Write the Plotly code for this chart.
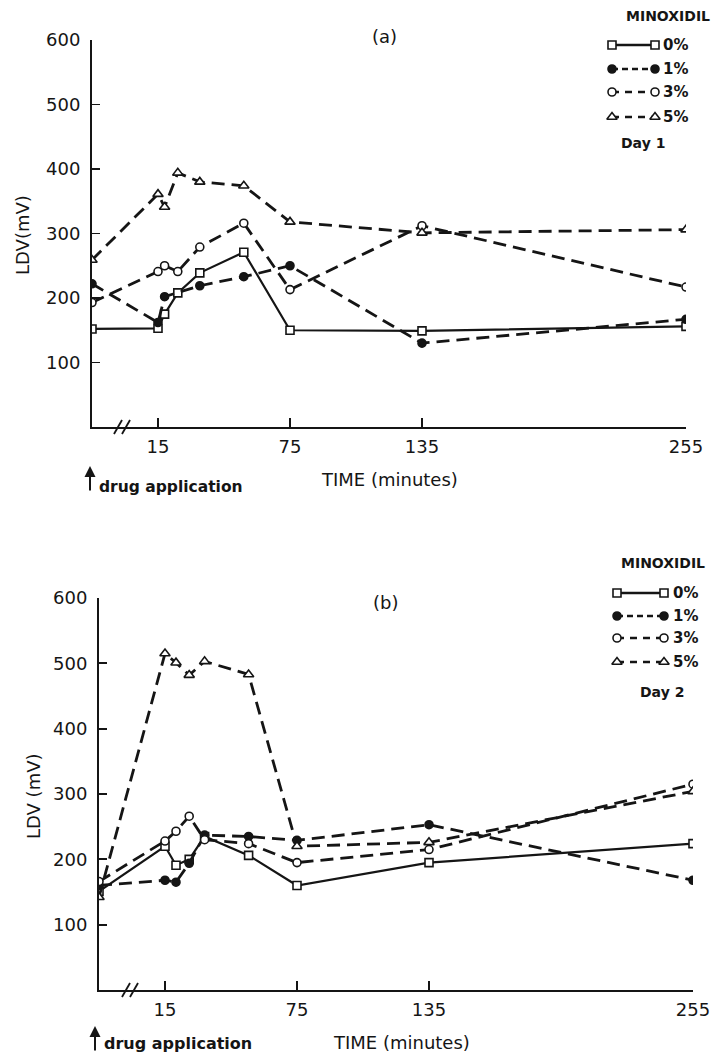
import plotly.graph_objects as go

W, H = 716, 1053

# ---------------- data ----------------
series_labels = ["0%", "1%", "3%", "5%"]

# Panel (a) – Day 1 (time in minutes after drug application, LDV in mV)
a_t_0 = [0, 15, 18, 24, 34, 54, 75, 135, 255]
a_v_0 = [152, 153, 175, 208, 239, 271, 150, 149, 156]
a_t_1 = [0, 15, 18, 34, 54, 75, 135, 255]
a_v_1 = [222, 162, 202, 219, 233, 250, 130, 167]
a_t_3 = [0, 15, 18, 24, 34, 54, 75, 135, 255]
a_v_3 = [193, 241, 250, 241, 279, 316, 213, 312, 217]
a_t_5 = [0, 15, 18, 24, 34, 54, 75, 135, 255]
a_v_5 = [259, 361, 341, 394, 380, 374, 318, 301, 306]

# Panel (b) – Day 2
b_t_0 = [0, 15, 20, 26, 33, 53, 75, 135, 255]
b_v_0 = [151, 220, 191, 200, 235, 206, 160, 195, 224]
b_t_1 = [0, 15, 20, 26, 33, 53, 75, 135, 255]
b_v_1 = [160, 168, 165, 194, 237, 235, 229, 253, 168]
b_t_3 = [0, 15, 20, 26, 33, 53, 75, 135, 255]
b_v_3 = [166, 228, 243, 266, 230, 224, 195, 215, 315]
b_t_5 = [0, 15, 20, 26, 33, 53, 75, 135, 255]
b_v_5 = [142, 515, 501, 482, 503, 483, 220, 226, 304]

x_tick_vals = [15, 75, 135, 255]
x_tick_text = ["15", "75", "135", "255"]
y_tick_vals = [100, 200, 300, 400, 500, 600]

BREAK_POS = -15  # where time 0 (drug application) sits on the broken axis


def pos(ts):
    return [BREAK_POS if t == 0 else t for t in ts]


FONT = "DejaVu Sans"
INK = "#151515"

styles = {
    "0%": dict(dash="solid", width=2.2, symbol="square", fill="white", size=8),
    "1%": dict(dash="13px,7px", width=2.8, symbol="circle", fill=INK, size=8),
    "3%": dict(dash="13px,7px", width=2.8, symbol="circle", fill="white", size=8),
    "5%": dict(dash="13px,7px", width=2.8, symbol="triangle-up", fill="white", size=9),
}

fig = go.Figure()

panels = [
    ("x", "y", [(a_t_0, a_v_0), (a_t_1, a_v_1), (a_t_3, a_v_3), (a_t_5, a_v_5)]),
    ("x2", "y2", [(b_t_0, b_v_0), (b_t_1, b_v_1), (b_t_3, b_v_3), (b_t_5, b_v_5)]),
]
for xa, ya, data in panels:
    for lab, (ts, vs) in zip(series_labels, data):
        st = styles[lab]
        fig.add_trace(go.Scatter(
            x=pos(ts), y=vs, xaxis=xa, yaxis=ya, mode="lines+markers",
            line=dict(color=INK, width=st["width"], dash=st["dash"]),
            marker=dict(symbol=st["symbol"], size=st["size"], color=st["fill"],
                        line=dict(color=INK, width=1.6)),
            showlegend=False, hoverinfo="skip"))

# ---------------- legend samples (pixel overlay axis) ----------------
legends = [
    dict(x0=612, x1=655, rows=[45, 69, 92, 117], tx=661),
    dict(x0=617, x1=664, rows=[593, 616, 638, 662], tx=671),
]
leg_dash = {"0%": "solid", "1%": "6px,4px", "3%": "7px,6px", "5%": "7px,6px"}
for lg in legends:
    for lab, ry in zip(series_labels, lg["rows"]):
        st = styles[lab]
        fig.add_trace(go.Scatter(
            x=[lg["x0"], lg["x1"]], y=[ry, ry], xaxis="x3", yaxis="y3",
            mode="lines+markers",
            line=dict(color=INK, width=2.4, dash=leg_dash[lab]),
            marker=dict(symbol=st["symbol"], size=st["size"], color=st["fill"],
                        line=dict(color=INK, width=1.6)),
            showlegend=False, hoverinfo="skip"))

# ---------------- axes ----------------
A = dict(x0=92, x1=686, ytop=40, ybot=427)
B = dict(x0=99, x1=693, ytop=598, ybot=990)


def xdom(p):
    return [p["x0"] / W, p["x1"] / W]


def ydom(p):
    return [(H - p["ybot"]) / H, (H - p["ytop"]) / H]


common_x = dict(range=[BREAK_POS, 255], tickvals=x_tick_vals, ticktext=x_tick_text,
                showline=True, linecolor=INK, linewidth=2, ticks="inside",
                ticklen=9, tickwidth=1.8, tickcolor=INK, showgrid=False,
                zeroline=False, tickfont=dict(family=FONT, size=18, color=INK),
                ticklabelstandoff=2, automargin=False)
common_y = dict(range=[0, 600], tickvals=y_tick_vals,
                showline=True, linecolor=INK, linewidth=2, ticks="inside",
                ticklen=8, tickwidth=1.8, tickcolor=INK, showgrid=False,
                zeroline=False, tickfont=dict(family=FONT, size=18, color=INK),
                ticklabelstandoff=6, automargin=False)

fig.update_layout(
    template="none",
    width=W, height=H,
    margin=dict(l=0, r=0, t=0, b=0, pad=0, autoexpand=False),
    paper_bgcolor="white", plot_bgcolor="rgba(0,0,0,0)",
    font=dict(family=FONT, color=INK),
    xaxis=dict(domain=xdom(A), anchor="y", **common_x),
    yaxis=dict(domain=ydom(A), anchor="x", **common_y),
    xaxis2=dict(domain=xdom(B), anchor="y2", **common_x),
    yaxis2=dict(domain=ydom(B), anchor="x2", **common_y),
    xaxis3=dict(domain=[0, 1], range=[0, W], visible=False, anchor="y3",
                fixedrange=True, automargin=False),
    yaxis3=dict(domain=[0, 1], range=[H, 0], visible=False, anchor="x3",
                fixedrange=True, automargin=False),
    showlegend=False,
)

ann = []


def txt(x, y, s, size, bold=False, xanchor="center", angle=0):
    ann.append(dict(x=x, y=y, xref="x3", yref="y3", text=f"<b>{s}</b>" if bold else s,
                    showarrow=False, xanchor=xanchor, yanchor="middle", textangle=angle,
                    font=dict(family=FONT, size=size, color=INK)))


# panel labels
txt(384, 36, "(a)", 18)
txt(385, 602, "(b)", 18)
# y titles
txt(22, 235, "LDV(mV)", 18, angle=-90)
txt(33, 796, "LDV (mV)", 18, angle=-90)
# x titles
txt(389, 479, "TIME (minutes)", 18)
txt(401, 1042, "TIME (minutes)", 18)
# drug application
txt(97, 487, "drug application", 15.5, bold=True, xanchor="left")
txt(102, 1043, "drug application", 16, bold=True, xanchor="left")
for ax_x, y0, y1 in [(90, 492, 466), (95, 1052, 1026)]:
    ann.append(dict(x=ax_x, y=y1, ax=ax_x, ay=y0, xref="x3", yref="y3",
                    axref="x3", ayref="y3", text="", showarrow=True,
                    arrowhead=2, arrowsize=1.1, arrowwidth=2, arrowcolor=INK))
# legend texts
for lg, title_y, title_x, day, day_y, day_x in [
        (legends[0], 16, 668, "Day 1", 143, 643),
        (legends[1], 563, 663, "Day 2", 692, 662)]:
    txt(title_x, title_y, "MINOXIDIL", 14, bold=True)
    for lab, ry in zip(series_labels, lg["rows"]):
        txt(lg["tx"], ry, lab, 15, bold=True, xanchor="left")
    txt(day_x, day_y, day, 14, bold=True)

fig.update_layout(annotations=ann)

# axis breaks "//"
shapes = []
for bx, by in [(122, 427), (130, 990)]:
    for dx in (-4, 4):
        shapes.append(dict(type="line", xref="x3", yref="y3",
                           x0=bx + dx - 4, y0=by + 7, x1=bx + dx + 4, y1=by - 7,
                           line=dict(color=INK, width=1.8)))
fig.update_layout(shapes=shapes)

fig.write_html(
    "out.html",
    config={"displayModeBar": False, "staticPlot": True},
    post_script="document.body.style.margin='0';document.body.style.overflow='hidden';",
)
